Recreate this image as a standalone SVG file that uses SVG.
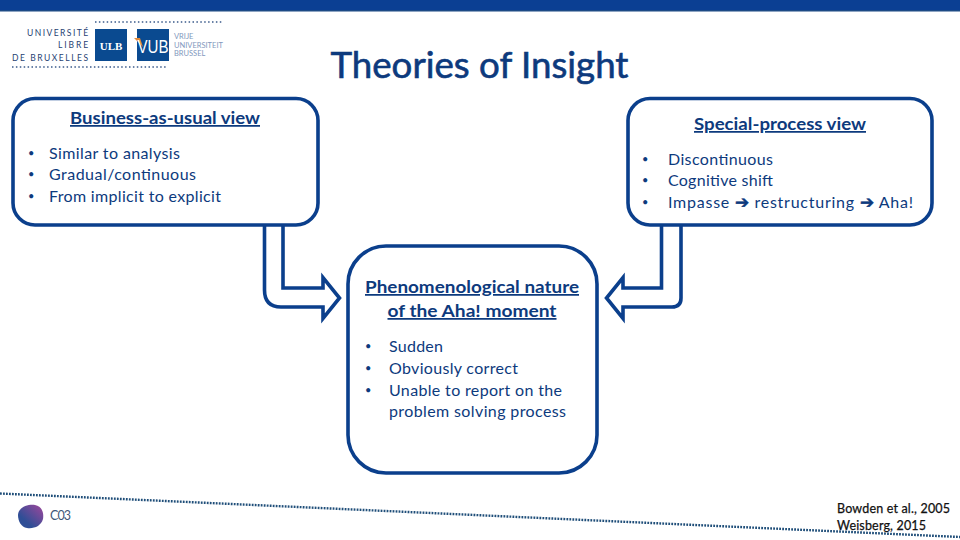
<svg xmlns="http://www.w3.org/2000/svg" width="960" height="540" viewBox="0 0 960 540">
<style>
text{font-family:"Lato","Open Sans","Liberation Sans",sans-serif}
.box,.arr{fill:#fff;stroke:#0b3f8c;stroke-width:3.6}
.arr{stroke-linejoin:miter}
.t{fill:#0d3a7d;font-size:16px}
.b{fill:#0d3a7d;font-size:11px}
.h{fill:#0d3a7d;font-size:17.5px;font-weight:700;text-decoration:underline;text-anchor:middle}
.lg{fill:#1f3f73;font-size:8.5px;letter-spacing:1.9px;text-anchor:end}
.v{fill:#7f98bd;font-size:7.5px}
.dot{fill:none;stroke:#1f4e79;stroke-width:2.4;stroke-dasharray:1.8 1.2}
.ar{stroke:#0d3a7d;stroke-width:.5;font-size:17px}
</style>
<defs><linearGradient id="g" x1="0" y1="1" x2="1" y2="0"><stop offset="0.3" stop-color="#2f4e96"/><stop offset="1" stop-color="#a0479c"/></linearGradient></defs>
<rect width="960" height="11" fill="#0b3f93"/>
<rect y="10" width="960" height="1.5" fill="#1d4a85"/>
<g id="logo">
<text class="lg" x="90" y="36" textLength="63">UNIVERSITÉ</text>
<text class="lg" x="90" y="48">LIBRE</text>
<text class="lg" x="90" y="61" textLength="78">DE BRUXELLES</text>
<path d="M95 22H223M12 67H168" fill="none" stroke="#3a5a8a" stroke-width="1.3" stroke-dasharray="1.5 2.4"/>
<rect x="95" y="29" width="32" height="32" fill="#0a4a90"/>
<text x="111" y="49.500" fill="#fff" font-size="11" font-weight="700" text-anchor="middle" style="font-family:'Liberation Serif',serif">ULB</text>
<rect x="137" y="29" width="32" height="32" fill="#0a4a90"/>
<path d="M134 38L140 38L143 47Z" fill="#e08a3c"/>
<text x="153" y="53" fill="#fff" font-size="19" text-anchor="middle" textLength="31" lengthAdjust="spacingAndGlyphs" style="font-family:'Liberation Sans',sans-serif">VUB</text>
<text class="v" x="174" y="39">VRIJE</text>
<text class="v" x="174" y="48">UNIVERSITEIT</text>
<text class="v" x="174" y="56">BRUSSEL</text>
</g>
<text id="title" x="479.500" y="78" fill="#0d3a7d" stroke="#0d3a7d" stroke-width=".6" font-size="36" text-anchor="middle" textLength="298" lengthAdjust="spacingAndGlyphs">Theories of Insight</text>
<g id="connectors">
<path class="arr" d="M264.500 224V290Q264.500 307 281 307H323V318.500L339.500 298L323 277.500V288H283V224"/>
<path class="arr" d="M681 224V298Q681 307 672 307H623V318.500L606.500 298L623 277.500V288H661.500V224"/>
</g>
<g id="business">
<rect class="box" x="13" y="98.500" width="305" height="126.500" rx="22"/>
<text class="h" x="165" y="124" textLength="190" lengthAdjust="spacingAndGlyphs">Business-as-usual view</text>
<text class="b" x="28" y="157">•</text><text class="t" x="49" y="159" textLength="131">Similar to analysis</text>
<text class="b" x="28" y="178">•</text><text class="t" x="49" y="180" textLength="147">Gradual/continuous</text>
<text class="b" x="28" y="200">•</text><text class="t" x="49" y="202" textLength="172">From implicit to explicit</text>
</g>
<g id="special">
<rect class="box" x="628" y="98.500" width="304" height="126.500" rx="22"/>
<text class="h" x="780" y="130" textLength="172" lengthAdjust="spacingAndGlyphs">Special-process view</text>
<text class="b" x="642" y="163">•</text><text class="t" x="668" y="165" textLength="105">Discontinuous</text>
<text class="b" x="642" y="184">•</text><text class="t" x="668" y="186" textLength="105">Cognitive shift</text>
<text class="b" x="642" y="206">•</text><text class="t" x="668" y="208" textLength="245" xml:space="preserve">Impasse <tspan class="ar">➔</tspan> restructuring <tspan class="ar">➔</tspan> Aha!</text>
</g>
<g id="phenomenological">
<rect class="box" x="348" y="246" width="249" height="227" rx="38"/>
<text class="h" x="472" y="293" textLength="214" lengthAdjust="spacingAndGlyphs">Phenomenological nature</text>
<text class="h" x="472" y="317" textLength="169" lengthAdjust="spacingAndGlyphs">of the Aha! moment</text>
<text class="b" x="365" y="350">•</text><text class="t" x="389" y="352" textLength="54">Sudden</text>
<text class="b" x="365" y="372">•</text><text class="t" x="389" y="374" textLength="129">Obviously correct</text>
<text class="b" x="365" y="394">•</text><text class="t" x="389" y="396" textLength="173">Unable to report on the</text>
<text class="t" x="389" y="417" textLength="177">problem solving process</text>
</g>
<path class="dot" d="M0 493.500L960 537"/>
<path d="M18 515C18 508 27 504 35 505C42 506 44 513 43 519C41 526 34 529 27 528C21 527 18 521 18 515Z" fill="url(#g)"/>
<text x="50" y="520" fill="#3f5878" font-size="12.500" textLength="21">C03</text>
<text x="837" y="513" fill="#111" stroke="#111" stroke-width=".25" font-size="12.500" textLength="113">Bowden et al., 2005</text>
<text x="837" y="530" fill="#111" stroke="#111" stroke-width=".25" font-size="12.500" textLength="89">Weisberg, 2015</text>
</svg>
